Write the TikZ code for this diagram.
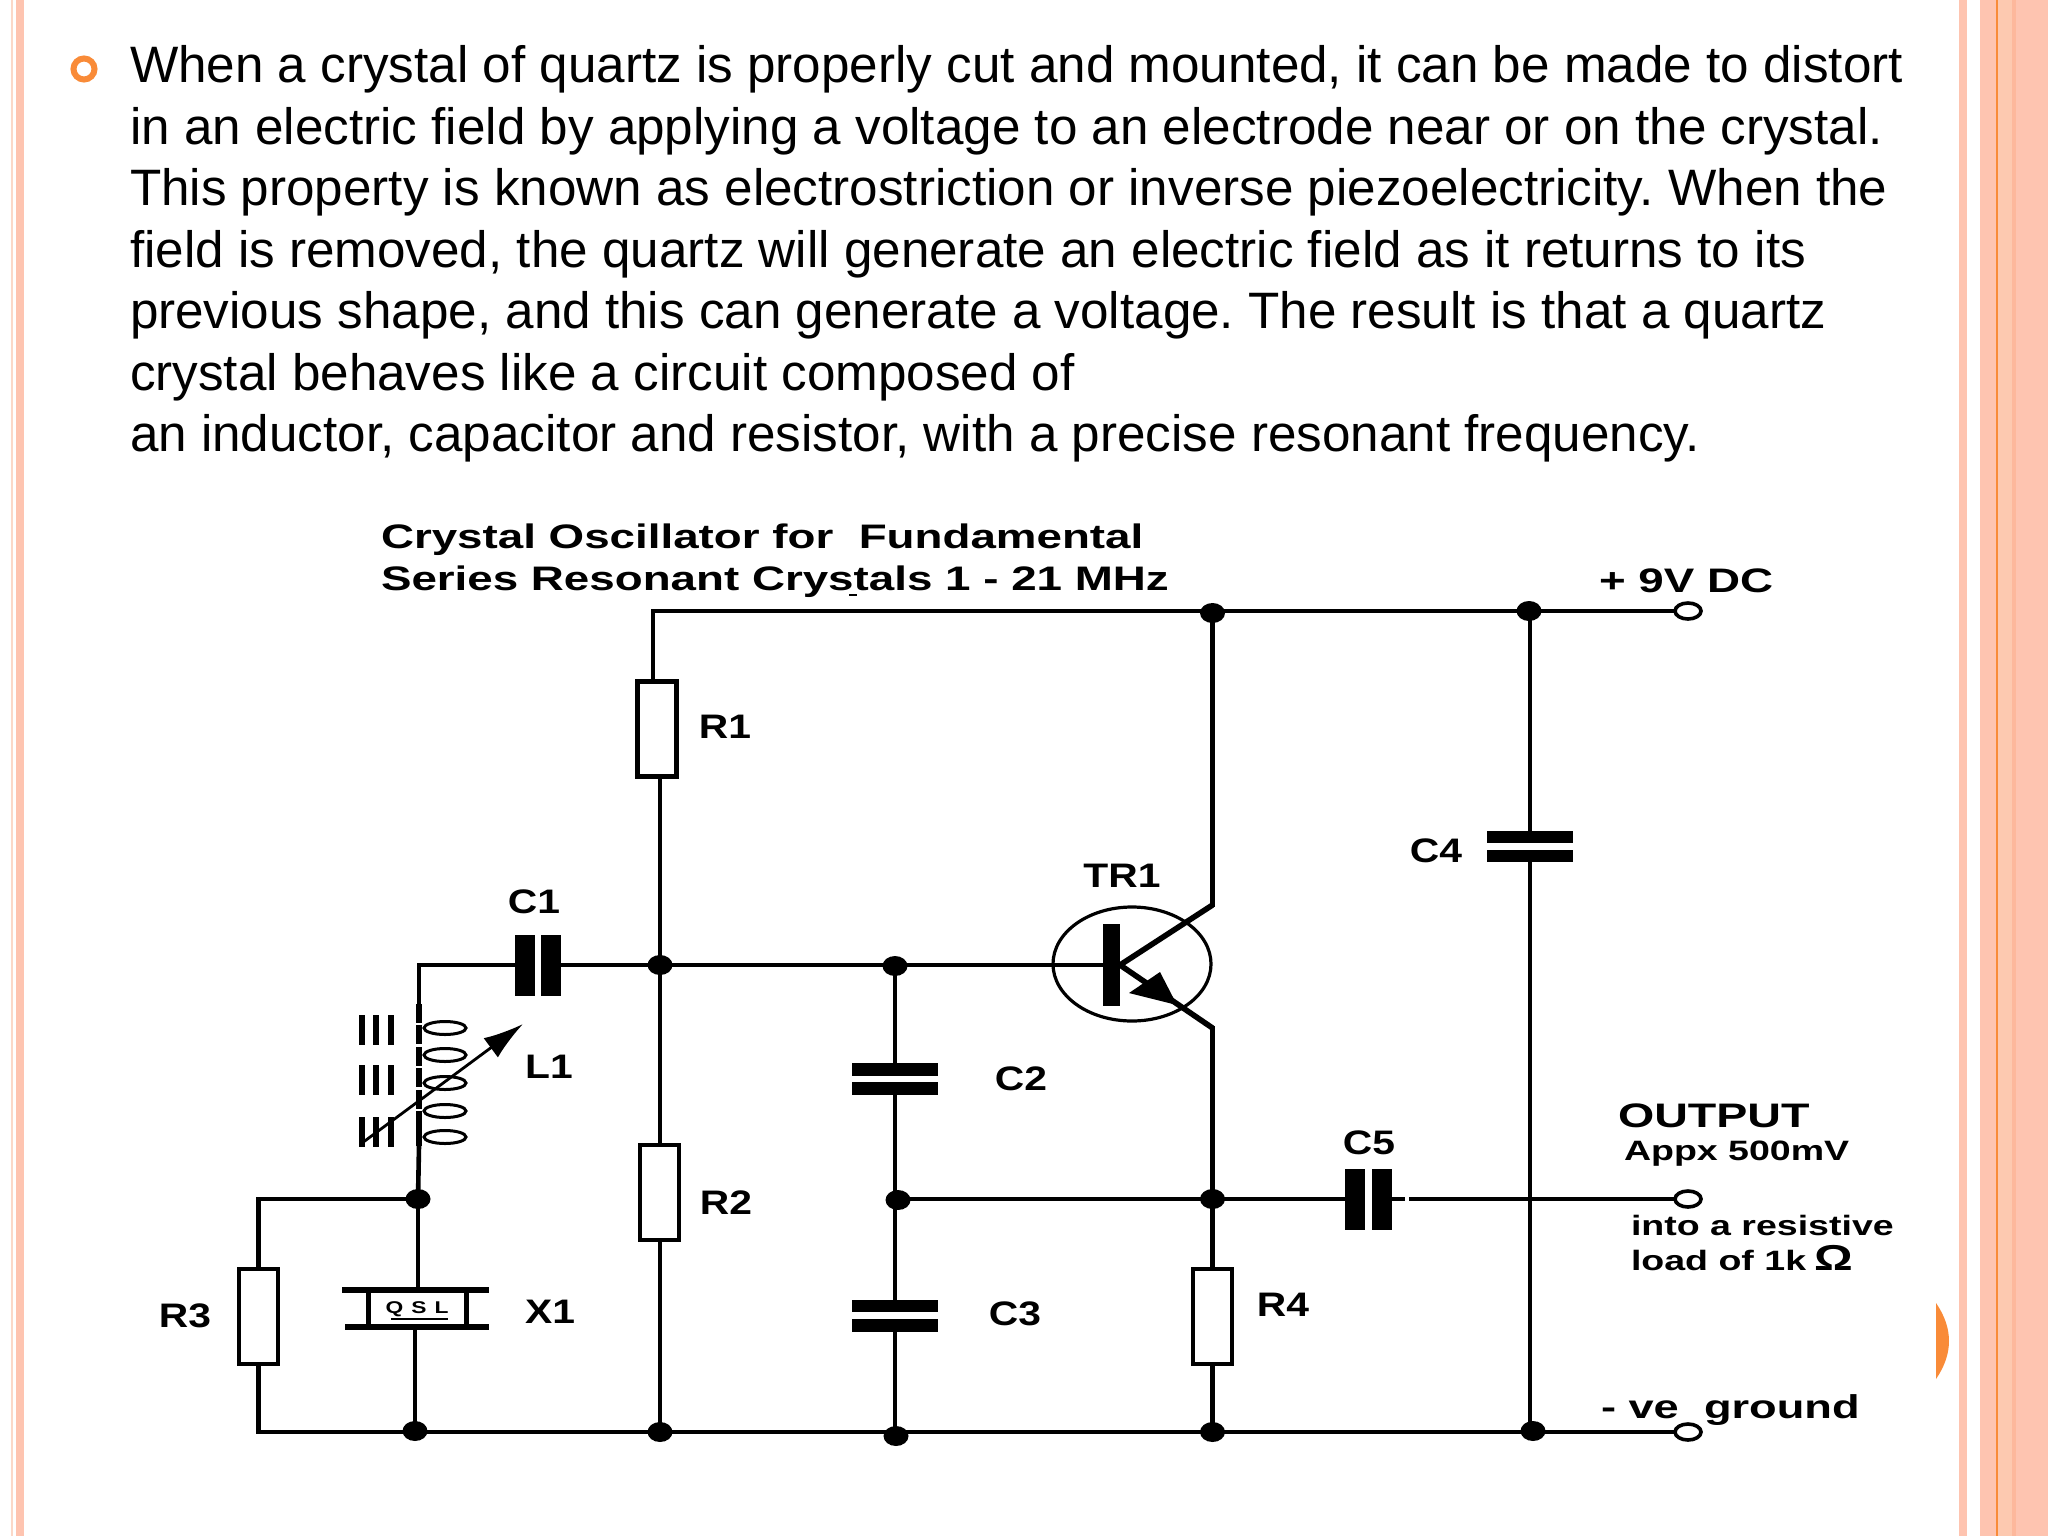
\documentclass[tikz,border=0pt]{standalone}
\usepackage{fontspec}
\usetikzlibrary{arrows.meta,shapes.geometric}
\setmainfont{Liberation Sans}
\newfontfamily\ckt[FakeStretch=1.2]{Liberation Sans Bold}
\newfontfamily\ckto[FakeStretch=1.37]{Liberation Sans Bold}
\newfontfamily\ckth[FakeStretch=1.345]{Liberation Sans Bold}
\newfontfamily\cktb[FakeStretch=1.34]{Liberation Sans Bold}
\newfontfamily\cktg[FakeStretch=1.37]{Liberation Sans Bold}
\definecolor{pinkA}{HTML}{FEC4B0}
\definecolor{pinkB}{HTML}{FDC9B0}
\definecolor{pinkC}{HTML}{FDB89C}
\definecolor{pinkD}{HTML}{FBD8C8}
\definecolor{orng}{HTML}{F98B38}
\tikzset{
  body/.style={anchor=base west,inner sep=0,outer sep=0,font=\fontsize{25.6pt}{25.6pt}\selectfont},
  lab/.style={anchor=base,inner sep=0,outer sep=0,font=\ckt\fontsize{17pt}{17pt}\selectfont},
  labw/.style={anchor=base west,inner sep=0,outer sep=0,font=\ckto\fontsize{17pt}{17pt}\selectfont},
  labh/.style={anchor=base west,inner sep=0,outer sep=0,font=\ckth\fontsize{17pt}{17pt}\selectfont},
  small/.style={anchor=base west,inner sep=0,outer sep=0,font=\cktb\fontsize{14pt}{14pt}\selectfont},
  smallg/.style={anchor=base west,inner sep=0,outer sep=0,font=\cktg\fontsize{16.5pt}{16.5pt}\selectfont},
  wire/.style={line width=2.3pt,line cap=rect,line join=miter},
  res/.style={draw,line width=2.4pt,fill=white,inner sep=0,outer sep=0,minimum width=19.5pt,minimum height=47.5pt},
  hplate/.style={fill=black,inner sep=0,outer sep=0,minimum width=43pt,minimum height=6.4pt},
  vplate/.style={fill=black,inner sep=0,outer sep=0,minimum width=10pt,minimum height=30.5pt},
  dot/.style={ellipse,fill=black,inner sep=0,outer sep=0,minimum width=12.5pt,minimum height=10pt},
  term/.style={ellipse,draw,line width=1.8pt,fill=white,inner sep=0,outer sep=0,minimum width=13pt,minimum height=8pt},
  coil/.style={ellipse,draw,line width=1.5pt,inner sep=0,outer sep=0,minimum width=21pt,minimum height=6.5pt},
  corebar/.style={fill=black,inner sep=0,outer sep=0,minimum width=3pt,minimum height=15pt}
}
\begin{document}
\frenchspacing
\begin{tikzpicture}[x=0.5pt,y=-0.5pt]
\useasboundingbox (0,0) rectangle (2048,1536);
\fill[white] (0,0) rectangle (2048,1536);
% page borders
\fill[pinkD] (10.5,0) rectangle (13,1536);
\fill[pinkA] (16,0) rectangle (24,1536);
\fill[pinkA] (1959,0) rectangle (1967,1536);
\fill[pinkA] (1980,0) rectangle (2048,1536);
\fill[pinkB] (1998,0) rectangle (2012,1536);
\fill[pinkC] (2012,0) rectangle (2016,1536);
\fill[orng] (1996,0) rectangle (1998.4,1536);
\fill[orng] (1936,1303) .. controls (1953.3,1328.3) and (1953.3,1353.7) .. (1936,1379) -- cycle;
% bullet and text
\node[circle,draw=orng,line width=3pt,inner sep=0,minimum size=10.5pt] (bullet) at (84,69) {};
\node[body] (t1) at (130,82.5) {When a crystal of quartz is properly cut and mounted, it can be made to distort};
\node[body] (t2) at (130,144) {in an electric field by applying a voltage to an electrode near or on the crystal.};
\node[body] (t3) at (130,205.5) {This property is known as electrostriction or inverse piezoelectricity. When the};
\node[body] (t4) at (130,267) {field is removed, the quartz will generate an electric field as it returns to its};
\node[body] (t5) at (130,328.5) {previous shape, and this can generate a voltage. The result is that a quartz};
\node[body] (t6) at (130,390) {crystal behaves like a circuit composed of};
\node[body] (t7) at (130,451.5) {an inductor, capacitor and resistor, with a precise resonant frequency.};
% title
\node[labh] (h1) at (381,548) {Crystal Oscillator for\ \ Fundamental};
\node[labh] (h2) at (381,590) {Series Resonant Crystals 1 - 21 MHz};
\fill (849,594) rectangle (857,596);
% components
\coordinate (tl) at (653,611);
\node[res] (R1) at (657,729) {};
\node[res] (R2) at (659.5,1192.5) {};
\node[res] (R3) at (258.5,1316.5) {};
\node[res] (R4) at (1212.5,1316.5) {};
\node[vplate] (C1a) at (525,965) {};
\node[vplate] (C1b) at (551,965) {};
\node[vplate] (C5a) at (1355,1199) {};
\node[vplate] (C5b) at (1381.5,1199) {};
\node[hplate] (C2a) at (895,1069.5) {};
\node[hplate] (C2b) at (895,1088.5) {};
\node[hplate] (C3a) at (895,1306) {};
\node[hplate] (C3b) at (895,1325.5) {};
\node[hplate] (C4a) at (1530,837) {};
\node[hplate] (C4b) at (1530,856) {};
% junctions and terminals
\node[term] (T1) at (1688,611) {};
\node[term] (T2) at (1688,1199) {};
\node[term] (T3) at (1688,1432) {};
\node[dot] (jt1) at (1212.5,613) {};
\node[dot] (jt2) at (1529,611) {};
\node[dot] (jb) at (660,965) {};
\node[dot] (jc) at (895,966) {};
\node[dot] (jm1) at (898,1200) {};
\node[dot] (jm2) at (1212.5,1199) {};
\node[dot] (jl) at (418,1199) {};
\node[dot] (jg1) at (415,1431) {};
\node[dot] (jg2) at (660,1432) {};
\node[dot] (jg3) at (896,1436) {};
\node[dot] (jg4) at (1212.5,1432) {};
\node[dot] (jg5) at (1533,1431) {};
\coordinate (c5e) at (1405,1199);
\coordinate (c5f) at (1409,1199);
\coordinate (topr) at (1529,611);
\coordinate (gnd) at (1533,1432);
% wires
\draw[wire] (R1.north -| tl) -- (tl) -- (T1);
\draw[wire] (jb |- R1.south) -- (jb);
\draw[wire] (jb) -- (jb |- R2.north);
\draw[wire] (jb |- R2.south) -- (jg2);
\draw[wire] (C1b.east) -- (jb) -- (jb -| jc);
\draw[wire] (jb -| jc) -- (C2a.north);
\draw[wire] (C2b.south) -- (C3a.north);
\draw[wire] (C3b.south) -- (C3b.south |- jg3);
\draw[wire] (jm1 |- jm2) -- (jm2) -- (C5a.west);
\draw[wire,line cap=butt] (C5b.east) -- (c5e);
\draw[wire,line cap=butt] (c5f) -- (T2);
\draw[wire] (jm2) -- (R4.north);
\draw[wire] (R4.south) -- (jg4);
\draw[wire] (topr -| C4a.north) -- (C4a.north);
\draw[wire] (C4b.south) -- (C4b.south |- gnd);
\draw[wire] (R3.south) |- (jg2) -- (jg4) -- (T3);
\draw[wire] (jl) -| (R3.north);
% transistor
\node[ellipse,draw,line width=1.6pt,inner sep=0,outer sep=0,minimum width=79pt,minimum height=57pt] (TR) at (1132,964) {};
\node[fill=black,inner sep=0,outer sep=0,minimum width=8.5pt,minimum height=41pt] (TRb) at (1111.5,965) {};
\coordinate (col) at (1212.5,905);
\coordinate (emi) at (1212.5,1028);
\draw[wire] (jb -| jc) -- (TRb.west);
\draw[line width=2.8pt] (TRb.east) -- (col);
\draw[line width=2.8pt] (TRb.east) -- (emi);
\draw[wire] (col) -- (jt1 |- tl);
\draw[wire] (emi) -- (jm2);
\fill (1177,1005) -- (1129,993) -- (1160,972) -- cycle;
% L1 and X1
\node[coil] (L1a) at (445,1028) {};
\node[coil] (L1b) at (445,1055) {};
\node[coil] (L1c) at (445,1083) {};
\node[coil] (L1d) at (445,1111) {};
\node[coil] (L1e) at (445,1137) {};
\coordinate (lc) at (419,965);
\coordinate (lt) at (419,1004);
\coordinate (ld) at (419,1117);
\coordinate (lf) at (419,1146);
\draw[wire] (C1a.west) -- (lc) -- (lt);
\draw[line width=3pt,dash pattern=on 9.5pt off 1.2pt] (lt) -- (ld);
\draw[line width=3pt] (ld) -- (lf);
\draw[wire] (lf) -- (jl);
\foreach \n/\x/\y in {a/362/1029.5,b/362/1080,c/362/1131.5,d/376/1029.5,e/376/1080,f/376/1131.5,g/391/1029.5,h/391/1080,i/391/1131.5}
  \node[corebar] (bar\n) at (\x,\y) {};
\coordinate (as) at (362,1143);
\coordinate (ae) at (523,1024);
\draw[line width=1.4pt,-{Latex[length=20pt,width=12pt]}] (as) -- (ae);
\node[fill=black,inner sep=0,outer sep=0,minimum width=73.5pt,minimum height=2.6pt] (X1t) at (415.5,1290) {};
\node[fill=black,inner sep=0,outer sep=0,minimum width=72pt,minimum height=2.6pt] (X1b) at (417,1327) {};
\node[draw,line width=2.4pt,inner sep=0,outer sep=0,minimum width=49pt,minimum height=18pt] (X1) at (417.5,1308.5) {};
\draw[wire] (jl) -- (jl |- X1t.north);
\draw[wire] (jg1 |- X1b.south) -- (jg1);
\node[inner sep=0,outer sep=0,font=\cktb\fontsize{8.5pt}{8.5pt}\selectfont] (qsl) at (417,1309) {Q\hspace{4pt}S\hspace{4pt}L};
\draw[line width=0.9pt] (391,1319) -- (448,1319);
% labels
\node[lab] (lC1) at (534,913) {C1};
\node[lab] (lR1) at (725,738) {R1};
\node[lab] (lR2) at (726,1214) {R2};
\node[lab] (lR3) at (185,1327) {R3};
\node[lab] (lR4) at (1283,1316) {R4};
\node[lab] (lL1) at (549,1078) {L1};
\node[lab] (lX1) at (550,1323) {X1};
\node[lab] (lC2) at (1021,1090) {C2};
\node[lab] (lC3) at (1015,1325) {C3};
\node[lab] (lC4) at (1436,862) {C4};
\node[lab] (lC5) at (1369,1154) {C5};
\node[lab] (lTR) at (1122,887) {TR1};
\node[labh] (l9v) at (1599,592) {+ 9V DC};
\node[labw] (lout) at (1618,1127) {OUTPUT};
\node[small] (lap) at (1624,1160) {Appx 500mV};
\node[small] (lin) at (1631,1235) {into a resistive};
\node[small] (llo) at (1631,1270) {load of 1k\hspace{4pt}{\fontsize{18pt}{18pt}\selectfont Ω}};
\node[smallg] (lgn) at (1601,1418) {- ve\ \ ground};
\end{tikzpicture}
\end{document}
